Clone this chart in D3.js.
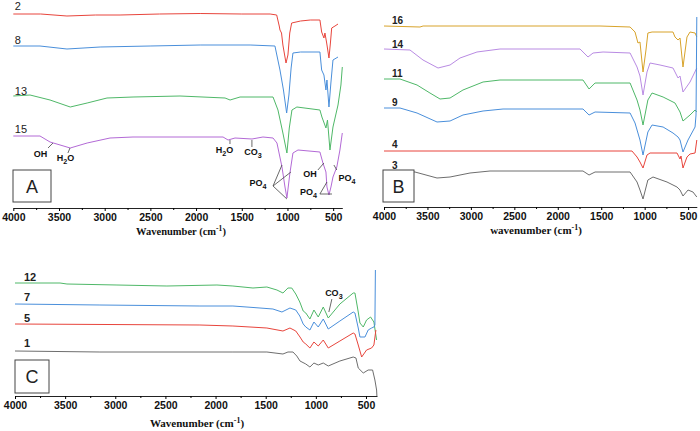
<!DOCTYPE html>
<html><head><meta charset="utf-8">
<script src="https://cdn.jsdelivr.net/npm/d3@7"></script>
<style>body{margin:0;background:#fff}svg{display:block}</style>
</head><body>
<svg id="c" width="700" height="431"></svg>
<script>
// ---------- DATA (wavenumber cm-1, offset transmittance a.u.) ----------
const majorTicks = [4000,3500,3000,2500,2000,1500,1000,500];
const minorTicks = [3750,3250,2750,2250,1750,1250,750];

// Panel A
const specA2  = [[4000,194],[3700,194],[3413,192],[3100,193],[2832,193],[2400,194],[1955,194.5],[1500,194],[1190,194],[1118,193],[1090,182],[1082,178],[1065,175],[1050,163],[1016,145],[995,153],[975,175],[954,185],[857,187],[750,188],[645,188],[626,176],[601,170],[590,175],[571,165],[546,150],[530,165],[516,180],[480,182],[447,184]];
const specA8  = [[4000,162],[3708,162],[3413,159],[3050,161],[2503,162],[1955,163],[1409,163],[1137,162],[1082,138],[1044,118],[1009,95],[984,113],[960,140],[940,155],[857,156],[645,156],[626,138],[601,133],[579,118],[568,128],[546,101],[525,125],[502,148],[447,151]];
const specA13 = [[4000,112],[3817,113],[3598,108],[3377,101],[3192,105],[2975,110],[2690,111],[2176,112],[1683,110],[1628,108],[1519,111],[1158,111],[1104,98],[1050,75],[1006,55],[980,80],[951,98],[897,101],[645,98],[623,91],[579,80],[562,88],[535,58],[502,81],[447,103],[415,123],[400,141]];
const specA15 = [[4000,72],[3708,72],[3598,66],[3377,60],[3192,65],[2942,70],[2690,71],[1705,71],[1650,68],[1574,70],[1388,69],[1268,71],[1158,70],[1115,65],[1060,41],[1027,21],[1006,10],[973,35],[940,55],[885,58],[645,56],[612,45],[579,36],[568,21],[546,13],[524,21],[502,31],[460,41],[426,58],[400,75]];

// Panel B
const specB16 = [[4000,181],[3586,180],[3550,181],[2665,181],[1514,181],[1168,180],[1111,175],[1077,164],[1054,165],[1019,135],[985,157],[963,174],[915,175],[674,175],[651,170],[616,167],[593,169],[559,140],[513,170],[478,175],[420,174],[400,170]];
const specB14 = [[4000,158],[3701,157],[3551,147],[3378,139],[3240,142],[3125,149],[2930,155],[2665,158],[1744,158],[1652,150],[1594,154],[1479,155],[1168,154],[1088,140],[1054,131],[1019,112],[973,135],[938,144],[823,142],[674,139],[616,129],[593,131],[559,115],[478,125],[400,139]];
const specB11 = [[4000,128],[3816,128],[3620,122],[3471,114],[3355,108],[3240,109],[3091,117],[2860,125],[2665,127],[1710,127],[1640,118],[1571,124],[1168,124],[1088,107],[1054,97],[1019,82],[963,107],[915,114],[788,110],[651,104],[593,95],[559,86],[478,92],[420,97],[400,95]];
const specB9  = [[4000,99],[3816,99],[3620,94],[3390,85],[3240,86],[3091,92],[2860,96],[2630,98],[1710,98],[1640,92],[1571,95],[1168,94],[1111,84],[1054,67],[1019,52],[963,75],[915,82],[788,80],[674,74],[616,70],[593,67],[559,55],[501,67],[420,80],[409,92],[400,190]];
const specB4  = [[4000,56],[2665,56],[1514,56],[1146,56],[1088,50],[1054,45],[1019,39],[973,52],[938,54],[628,54],[593,48],[582,51],[559,39],[513,50],[478,53],[420,54],[400,67]];
const specB3  = [[4000,36],[3643,35],[3390,29],[3240,30],[3010,34],[2780,36],[1710,36],[1640,32],[1571,35],[1168,35],[1088,25],[1054,17],[1019,8],[963,27],[904,30],[743,25],[628,20],[593,17],[559,11],[501,17],[444,15],[400,10]];

// Panel C
const specC12 = [[4000,113],[3551,113],[3482,112],[2983,111],[2485,110],[1986,111],[1827,110],[1627,108],[1488,109],[1388,106],[1328,103],[1278,108],[1240,108],[1200,102],[1160,94],[1126,85],[1100,83],[1059,77],[1019,86],[976,79],[926,89],[876,78],[760,92],[627,103],[610,103],[577,84],[560,73],[527,69],[494,76],[454,79],[421,74],[394,56]];
const specC7  = [[4000,92],[3153,91],[2156,90],[1827,90],[1557,88],[1428,87],[1338,84],[1258,88],[1200,86],[1160,80],[1126,72],[1100,69],[1059,66],[1019,74],[976,69],[926,77],[876,67],[760,75],[627,84],[610,83],[577,68],[560,59],[510,59],[478,66],[444,68],[421,69],[411,71],[406,126]];
const specC5  = [[4000,72],[2156,71],[1827,70],[1488,68],[1328,65],[1258,68],[1200,65],[1158,59],[1126,54],[1100,52],[1059,48],[1019,54],[976,50],[926,56],[876,48],[760,55],[627,63],[610,62],[577,51],[543,39],[494,46],[444,48],[421,51],[401,66]];
const specC1  = [[4000,45],[3153,44],[1827,44],[1488,44],[1328,42],[1278,44],[1228,44],[1190,40],[1158,35],[1100,32],[1059,29],[1019,33],[976,31],[926,33],[876,30],[760,35],[627,39],[600,38],[577,28],[527,23],[478,26],[434,26],[411,16],[394,6],[391,0]];

// ---------- DRAWING ----------
const svg = d3.select("#c");
const COL = {red:"#e8453c", blue:"#4a8fdb", green:"#4fb868", purpleA:"#b36ad6", purpleB:"#b98be3", gold:"#d8a32a", gray:"#6e6e6e"};

const panels = [
  {name:"A", domain:[4000,400], xr:[13.3,342.3], axisY:208, title:"Wavenumber", titleX:181, titleY:235, titleSize:10.5,
   series:[{d:specA2,c:COL.red,l:"2",lv:198},{d:specA8,c:COL.blue,l:"8",lv:164},{d:specA13,c:COL.green,l:"13",lv:113},{d:specA15,c:COL.purpleA,l:"15",lv:75}],
   labelStyle:{w:"normal",s:11,dx:1.5}, box:[13,170,38,32]},
  {name:"B", domain:[4000,400], xr:[384,696.8], axisY:207, title:"wavenumber", titleX:536, titleY:234, titleSize:11,
   series:[{d:specB16,c:COL.gold,l:"16",lv:183},{d:specB14,c:COL.purpleB,l:"14",lv:159},{d:specB11,c:COL.green,l:"11",lv:130},{d:specB9,c:COL.blue,l:"9",lv:101},{d:specB4,c:COL.red,l:"4",lv:59},{d:specB3,c:COL.gray,l:"3",lv:38}],
   labelStyle:{w:"bold",s:10,dx:8}, box:[383,170,31,32]},
  {name:"C", domain:[4000,390], xr:[15,377], axisY:396, title:"Wavenumber", titleX:197, titleY:427, titleSize:11,
   series:[{d:specC12,c:COL.green,l:"12",lv:115},{d:specC7,c:COL.blue,l:"7",lv:95},{d:specC5,c:COL.red,l:"5",lv:74},{d:specC1,c:COL.gray,l:"1",lv:49}],
   labelStyle:{w:"bold",s:11,dx:9}, box:[15,360,34,33]}
];

function chem(g, x, y, parts, size, anchor){
  const t = g.append("text").attr("x",x).attr("y",y).attr("text-anchor",anchor||"middle")
    .attr("font-family","Liberation Sans, Arial, sans-serif").attr("font-weight","bold").attr("font-size",size).attr("fill","#111");
  let sub=false;
  parts.forEach(p=>{
    const isSub = p[1];
    const ts = t.append("tspan").text(p[0]);
    if(isSub && !sub){ ts.attr("dy",3).attr("font-size",size*0.8); }
    else if(!isSub && sub){ ts.attr("dy",-3); }
    sub = isSub;
  });
  return t;
}

const scales = {};
panels.forEach(p=>{
  const x = d3.scaleLinear().domain(p.domain).range(p.xr);
  const y = d3.scaleLinear().domain([0,200]).range([p.axisY, p.axisY-200]);
  scales[p.name] = {x,y};
  const g = svg.append("g");
  const line = d3.line().x(d=>x(d[0])).y(d=>y(d[1])).curve(d3.curveLinear);
  p.series.forEach(s=>{
    g.append("path").datum(s.d).attr("d",line).attr("fill","none").attr("stroke",s.c).attr("stroke-width",1).attr("stroke-linejoin","round");
    g.append("text").attr("x",x(4000)+p.labelStyle.dx).attr("y",y(s.lv))
      .attr("font-family","Liberation Sans, Arial, sans-serif").attr("font-weight",p.labelStyle.w)
      .attr("font-size",p.labelStyle.s).attr("fill","#222").text(s.l);
  });
  // box
  g.append("rect").attr("x",p.box[0]).attr("y",p.box[1]).attr("width",p.box[2]).attr("height",p.box[3])
    .attr("fill","#fff").attr("stroke","#444").attr("stroke-width",1);
  g.append("text").attr("x",p.box[0]+p.box[2]/2).attr("y",p.box[1]+p.box[3]/2+6.5).attr("text-anchor","middle")
    .attr("font-family","Liberation Sans, Arial, sans-serif").attr("font-size",18).attr("fill","#222").text(p.name);
  // axis
  const ax = g.append("g").attr("transform",`translate(0,${p.axisY})`)
    .call(d3.axisBottom(x).tickValues(majorTicks).tickSize(3).tickSizeOuter(0).tickPadding(3).tickFormat(d3.format("d")));
  ax.selectAll("text").attr("font-family","Liberation Sans, Arial, sans-serif").attr("font-weight","bold").attr("font-size",10.5).attr("fill","#111");
  ax.select(".domain").attr("stroke","#222");
  const axm = g.append("g").attr("transform",`translate(0,${p.axisY})`)
    .call(d3.axisBottom(x).tickValues(minorTicks).tickSize(2).tickFormat(""));
  axm.select(".domain").remove();
  // title
  const t = g.append("text").attr("x",p.titleX).attr("y",p.titleY).attr("text-anchor","middle")
    .attr("font-family","Liberation Serif, Times New Roman, serif").attr("font-weight","bold").attr("font-size",p.titleSize).attr("fill","#111");
  t.append("tspan").text(p.title+" (cm");
  t.append("tspan").attr("dy",-4).attr("font-size",p.titleSize*0.72).text("-1");
  t.append("tspan").attr("dy",4).text(")");
});

// ---------- ANNOTATIONS (data coordinates) ----------
const annA = [
  {t:[["OH",0]], at:[3702,51], lines:[[[3620,60],[3566,65]]]},
  {t:[["H",0],["2",1],["O",0]], at:[3429,47], lines:[[[3402,55],[3380,60]]]},
  {t:[["H",0],["2",1],["O",0]], at:[1689,55], lines:[[[1629,64],[1629,68]]]},
  {t:[["CO",0],["3",1]], at:[1378,53], lines:[[[1389,61],[1389,68]]]},
  {t:[["PO",0],["4",1]], at:[1323,22], lines:[[[1158,22],[1060,43]],[[1158,22],[962,36]],[[1158,22],[1006,9]]]},
  {t:[["OH",0]], at:[754,31], lines:[[[667,38],[601,45]]]},
  {t:[["PO",0],["4",1]], at:[770,13], lines:[[[645,14],[568,26]],[[645,14],[513,14]]]},
  {t:[["PO",0],["4",1]], at:[349,27], lines:[[[460,38],[492,43]]]}
];
const annC = [
  {t:[["CO",0],["3",1]], at:[820,100], lines:[[[840,97],[870,84]]]}
];
function drawAnn(list, sc){
  const g = svg.append("g");
  list.forEach(a=>{
    a.lines.forEach(l=>{
      g.append("line").attr("x1",sc.x(l[0][0])).attr("y1",sc.y(l[0][1])).attr("x2",sc.x(l[1][0])).attr("y2",sc.y(l[1][1]))
        .attr("stroke","#444").attr("stroke-width",0.8);
    });
    chem(g, sc.x(a.at[0]), sc.y(a.at[1]), a.t, 9);
  });
}
drawAnn(annA, scales.A);
drawAnn(annC, scales.C);
</script>
</body></html>
